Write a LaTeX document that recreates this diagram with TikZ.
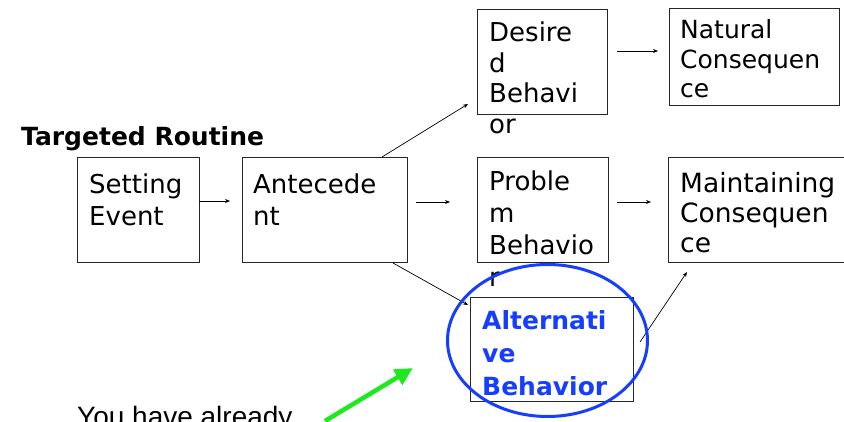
\documentclass[tikz,border=0pt]{standalone}
\usepackage{fontspec}
\setmainfont{DejaVu Sans}
\newfontfamily\notefont{Liberation Sans}
\usetikzlibrary{arrows.meta,shapes.geometric}

% stacked lines with a fixed baseline distance; baseline = first line
\newcommand\tlines[2]{\vtop{\baselineskip=#1\lineskiplimit=-10pt\halign{##\hfil\cr #2\crcr}}}

\definecolor{altblue}{RGB}{22,62,255}
\definecolor{notegreen}{RGB}{30,232,30}

\begin{document}
\begin{tikzpicture}[x=1pt,y=-1pt,
  box/.style={draw=black!85,line width=0.9pt,anchor=north west,inner sep=0pt},
  label/.style={anchor=base west,inner sep=0pt,text=black},
  conn/.style={draw=black,line width=0.7pt,-{Stealth[length=5pt,width=4pt]}},
  lbl26/.style={label,font=\fontsize{26}{32}\selectfont},
]
\useasboundingbox (0,0) rectangle (844,422);
\clip (0,0) rectangle (844,422);

% boxes
\node[box,minimum width=122pt,minimum height=105pt] (setbox) at (77,157) {};
\node[box,minimum width=165pt,minimum height=105pt] (antebox) at (242,157) {};
\node[box,minimum width=130pt,minimum height=105pt] (desbox) at (477,9) {};
\node[box,minimum width=170pt,minimum height=97pt] (natbox) at (669,8) {};
\node[box,minimum width=131pt,minimum height=105pt] (probbox) at (477,157) {};
\node[box,minimum width=184pt,minimum height=105pt] (maintbox) at (668,157) {};
\node[box,minimum width=163pt,minimum height=104pt] (altbox) at (470,297) {};

% box texts
\node[label,font=\bfseries\fontsize{25}{30}\selectfont] (title) at (21,146) {Targeted Routine};
\node[lbl26] (settxt) at (89,194) {\tlines{32pt}{Setting\cr Event}};
\node[lbl26] (antetxt) at (253,194) {\tlines{32pt}{Antecede\cr nt}};
\node[lbl26] (destxt) at (489,42) {\tlines{30.5pt}{Desire\cr d\cr Behavi\cr or}};
\node[label,font=\fontsize{25}{30}\selectfont] (nattxt) at (680,39) {\tlines{29.5pt}{Natural\cr Consequen\cr ce}};
\node[lbl26] (probtxt) at (489,191) {\tlines{32pt}{Proble\cr m\cr Behavio\cr r}};
\node[label,font=\fontsize{26.5}{32}\selectfont] (mainttxt) at (680,193) {\tlines{30pt}{Maintaining\cr Consequen\cr ce}};
\node[label,text=altblue,font=\bfseries\fontsize{25}{30}\selectfont] (alttxt) at (482,330) {\tlines{33pt}{Alternati\cr ve\cr Behavior}};

% connector end points
\coordinate (seOut) at (199,201);  \coordinate (anIn) at (230,201);
\coordinate (anOut) at (416,202);  \coordinate (prIn) at (450,202);
\coordinate (prOut) at (617,202);  \coordinate (maIn) at (651,202);
\coordinate (deOut) at (617,51);   \coordinate (naIn) at (658,51);
\coordinate (anUp) at (382,157);   \coordinate (deIn) at (468,104);
\coordinate (anDown) at (393,263); \coordinate (alIn) at (468,305);
\coordinate (alOut) at (640,342);  \coordinate (maUp) at (687,272);

\draw[conn] (seOut) -- (anIn);
\draw[conn] (anOut) -- (prIn);
\draw[conn] (prOut) -- (maIn);
\draw[conn] (deOut) -- (naIn);
\draw[conn] (anUp) -- (deIn);
\draw[conn] (anDown) -- (alIn);
\draw[conn] (alOut) -- (maUp);

% highlight ring around the alternative behaviour
\node[draw=altblue,line width=3pt,ellipse,minimum width=200pt,minimum height=152pt,inner sep=0pt] (ring) at (547.5,340.5) {};

% note with pointer, running off the lower edge
\node[label,font=\notefont\fontsize{28}{32}\selectfont] (note) at (77,426) {You have already};
\coordinate (noteTail) at (325,421);
\coordinate (noteTip) at (413,368);
\draw[draw=notegreen,line width=4.5pt,-{Triangle[length=18pt,width=17pt]}] (noteTail) -- (noteTip);
\end{tikzpicture}
\end{document}
